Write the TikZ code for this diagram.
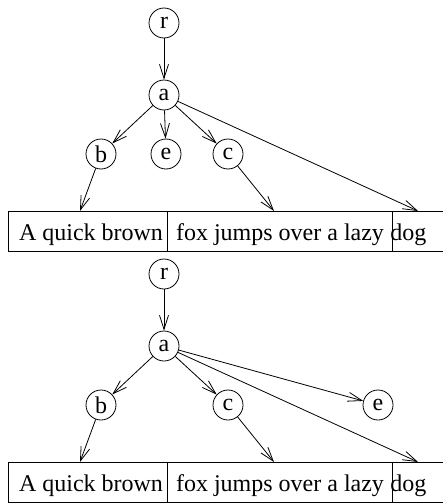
\documentclass[tikz,border=0pt]{standalone}
\usepackage{fontspec}
\setmainfont{Liberation Serif}
\usetikzlibrary{arrows.meta, positioning}
\tikzstyle{letter}=[circle, draw, minimum size=15pt, inner sep=0pt]
\tikzstyle{word}=[inner sep=0pt, anchor=base]
\tikzstyle{link}=[-{Straight Barb[length=7pt,width=4.5pt]}]

\begin{document}
\begin{tikzpicture}[x=0.5pt, y=-0.5pt, font=\fontsize{12}{14}\selectfont]
		\useasboundingbox (0,0) rectangle (443,503);
		\clip (0,0) rectangle (443,503);
		% Both trees stand over the same sentence
		\foreach \t / \dy in {1/0, 2/251} {
			\node[letter] (r-\t) at (164, 23+\dy) {r};
			\node[letter] (a-\t) at (164, 95+\dy) {a};
			\node[letter] (b-\t) at (101, 154+\dy) {b};
			\node[letter] (c-\t) at (228, 154+\dy) {c};

			% The sentence, cut in three pieces
			\node[word] (w1-\t) at (91, 240+\dy) {A quick brown};
			\node[word] (w2-\t) at (280, 240+\dy) {fox jumps over a lazy};
			\node[word, anchor=base west] (w3-\t) at (390, 240+\dy) {dog};
			\draw (8, 211+\dy) -- (600, 211+\dy);
			\draw (8, 251+\dy) -- (600, 251+\dy);
			\draw (8, 211+\dy) -- (8, 251+\dy);
			\draw (167, 211+\dy) -- (167, 251+\dy);
			\draw (392, 211+\dy) -- (392, 251+\dy);
			\coordinate (s1-\t) at (80, 211+\dy);
			\coordinate (s2-\t) at (274, 211+\dy);
			\coordinate (s3-\t) at (418, 211+\dy);

			\draw[link] (r-\t) -- (a-\t);
			\draw[link] (a-\t) -- (b-\t);
			\draw[link] (a-\t) -- (c-\t);
			\draw[link] (b-\t) -- (s1-\t);
			\draw[link] (c-\t) -- (s2-\t);
			\draw[link] (a-\t) -- (s3-\t);
		}

		% Where e goes
		\node[letter] (e-1) at (166, 154) {e};
		\node[letter] (e-2) at (378, 405) {e};
		\draw[link] (a-1) -- (e-1);
		\draw[link] (a-2) -- (e-2);
	\end{tikzpicture}
\end{document}
